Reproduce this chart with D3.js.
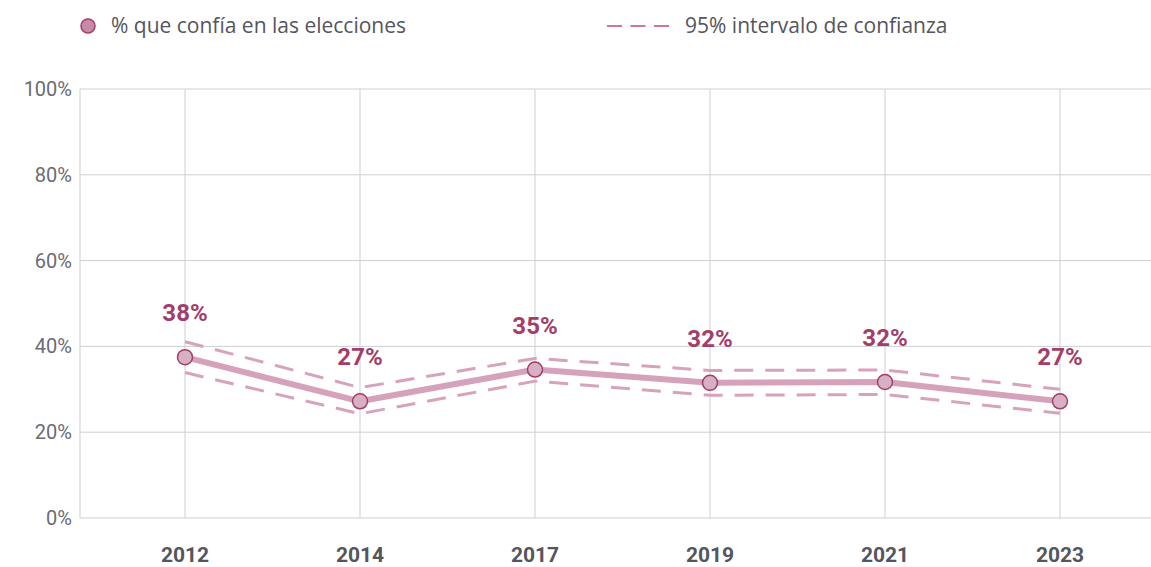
<!DOCTYPE html>
<html>
<head>
<meta charset="utf-8">
<script src="https://cdn.jsdelivr.net/npm/d3@7"></script>
<style>
  body { margin: 0; background: #fff; overflow: hidden; }
  svg { display: block; }
  .tick-y { font-family: Roboto, sans-serif; font-size: 20px; fill: #6b6b73; }
  .tick-x { font-family: Roboto, sans-serif; font-size: 21px; font-weight: bold; fill: #55555d; }
  .legend-text { font-family: "Open Sans", Lato, sans-serif; font-size: 21px; fill: #55555d; }
  .val-label { font-family: Roboto, sans-serif; font-size: 24px; font-weight: bold; fill: #a33d6a; }
</style>
</head>
<body>
<svg id="chart"></svg>
<script>
// datos
const years = ["2012", "2014", "2017", "2019", "2021", "2023"];
const values = [37.5, 27.2, 34.6, 31.5, 31.7, 27.2];
const upper = [41.1, 30.4, 37.2, 34.4, 34.5, 30.0];
const lower = [33.9, 24.3, 31.9, 28.6, 28.8, 24.4];
const labels = ["38%", "27%", "35%", "32%", "32%", "27%"];
const yTicks = [0, 20, 40, 60, 80, 100];

const W = 1151, H = 567;
const margin = { top: 89, right: 0, bottom: 49, left: 80 };
const plotRight = 1165;

const svg = d3.select("#chart").attr("width", W).attr("height", H);

const x = d3.scalePoint().domain(years).range([margin.left, plotRight]).padding(0.6);
const y = d3.scaleLinear().domain([0, 100]).range([H - margin.bottom, margin.top]);

const grid = "#cfcfd3";

// rejilla horizontal
svg.append("g")
  .selectAll("line")
  .data(yTicks)
  .join("line")
  .attr("x1", margin.left)
  .attr("x2", W)
  .attr("y1", (d) => y(d))
  .attr("y2", (d) => y(d))
  .attr("stroke", grid)
  .attr("stroke-width", 1);

// rejilla vertical
svg.append("g")
  .selectAll("line")
  .data(years)
  .join("line")
  .attr("x1", (d) => x(d))
  .attr("x2", (d) => x(d))
  .attr("y1", y(100))
  .attr("y2", y(0))
  .attr("stroke", grid)
  .attr("stroke-width", 1);

svg.append("line")
  .attr("x1", margin.left).attr("x2", margin.left)
  .attr("y1", y(100)).attr("y2", y(0))
  .attr("stroke", grid);

// etiquetas de ejes
svg.append("g")
  .selectAll("text")
  .data(yTicks)
  .join("text")
  .attr("class", "tick-y")
  .attr("x", 72)
  .attr("y", (d) => y(d))
  .attr("dy", "0.35em")
  .attr("text-anchor", "end")
  .text((d) => d + "%");

svg.append("g")
  .selectAll("text")
  .data(years)
  .join("text")
  .attr("class", "tick-x")
  .attr("x", (d) => x(d))
  .attr("y", 562)
  .attr("text-anchor", "middle")
  .text((d) => d);

// intervalo de confianza
const ciColor = "#d7a3bc";
const ciLine = d3.line().x((d, i) => x(years[i])).y((d) => y(d));

[upper, lower].forEach((arr) => {
  svg.append("path")
    .attr("d", ciLine(arr))
    .attr("fill", "none")
    .attr("stroke", ciColor)
    .attr("stroke-width", 3)
    .attr("stroke-dasharray", "19,12");
});

// línea principal
svg.append("path")
  .attr("d", ciLine(values))
  .attr("fill", "none")
  .attr("stroke", "#d6a2bb")
  .attr("stroke-width", 6)
  .attr("stroke-linejoin", "round");

svg.append("g")
  .selectAll("circle")
  .data(values)
  .join("circle")
  .attr("cx", (d, i) => x(years[i]))
  .attr("cy", (d) => y(d))
  .attr("r", 7.5)
  .attr("fill", "#d8b0c3")
  .attr("stroke", "#a33d6a")
  .attr("stroke-width", 1.5);

svg.append("g")
  .selectAll("text")
  .data(values)
  .join("text")
  .attr("class", "val-label")
  .attr("x", (d, i) => x(years[i]))
  .attr("y", (d) => y(d) - 36)
  .attr("text-anchor", "middle")
  .text((d, i) => labels[i]);

// leyenda
const legend = svg.append("g");
legend.append("circle")
  .attr("cx", 88).attr("cy", 26).attr("r", 7)
  .attr("fill", "#c98aa8").attr("stroke", "#a33d6a").attr("stroke-width", 1.5);
legend.append("text")
  .attr("class", "legend-text")
  .attr("x", 111).attr("y", 26).attr("dy", "0.35em")
  .text("% que confía en las elecciones");

legend.append("line")
  .attr("x1", 607).attr("x2", 669).attr("y1", 26).attr("y2", 26)
  .attr("stroke", "#c8457b").attr("stroke-width", 1.5)
  .attr("stroke-dasharray", "15,8.5");
legend.append("text")
  .attr("class", "legend-text")
  .attr("x", 685).attr("y", 26).attr("dy", "0.35em")
  .text("95% intervalo de confianza");
</script>
</body>
</html>
